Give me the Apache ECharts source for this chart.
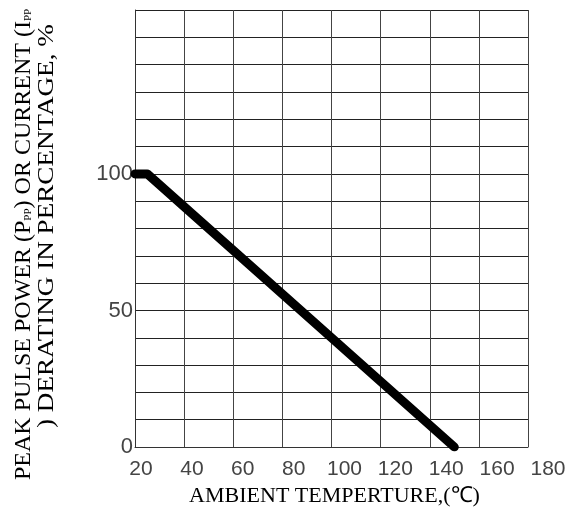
<!DOCTYPE html>
<html>
<head>
<meta charset="utf-8">
<script src="https://cdn.jsdelivr.net/npm/echarts@6/dist/echarts.min.js"></script>
<style>
html, body { margin: 0; padding: 0; background: #fff; }
#main { width: 587px; height: 514px; }
</style>
</head>
<body>
<div id="main"></div>
<script>
// 降额曲线数据 (温度, 百分比)
var temps = [20, 25, 150];
var percents = [100, 100, 0];
// 刻度标签
var xTicks = [20, 40, 60, 80, 100, 120, 140, 160, 180];
var yTicks = [0, 50, 100];

var lineData = temps.map(function (t, i) { return [t, percents[i]]; });

var myChart = echarts.init(document.getElementById('main'));
myChart.setOption({
    animation: false,
    grid: [
        { left: 135, right: 59, top: 10, bottom: 67 },
        // 只用于横轴文字
        { left: 141, right: 39, top: 10, bottom: 67 }
    ],
    xAxis: [{
        type: 'value', gridIndex: 0,
        min: 20, max: 180, interval: 20,
        axisLabel: { show: false },
        axisTick: { show: false },
        axisLine: { lineStyle: { color: '#333', width: 1 } },
        splitLine: { show: true, lineStyle: { color: '#444', width: 1 } },
        name: 'AMBIENT TEMPERTURE,(℃)',
        nameLocation: 'middle',
        nameGap: 38,
        nameTextStyle: { fontFamily: 'Liberation Serif', fontSize: 22, color: '#000', padding: [0, 0, 0, 6] }
    }, {
        type: 'value', gridIndex: 1,
        min: 20, max: 180, interval: 20,
        axisLine: { show: false },
        axisTick: { show: false },
        splitLine: { show: false },
        axisLabel: {
            margin: 12,
            fontFamily: 'Liberation Sans', fontSize: 21, color: '#444',
            formatter: function (v) { return xTicks.indexOf(v) >= 0 ? String(v) : ''; }
        }
    }],
    yAxis: [{
        type: 'value', gridIndex: 0,
        min: 0, max: 160, interval: 10,
        axisTick: { show: false },
        axisLine: { show: true, lineStyle: { color: '#333', width: 1 } },
        splitLine: { show: true, lineStyle: { color: '#222', width: 1 } },
        axisLabel: {
            margin: 2,
            fontFamily: 'Liberation Sans', fontSize: 22, color: '#444',
            formatter: function (v) { return yTicks.indexOf(v) >= 0 ? String(v) : ''; }
        }
    }, {
        type: 'value', gridIndex: 1, min: 0, max: 160, show: false
    }],
    graphic: [{
        type: 'text',
        x: 24, y: 480,
        rotation: Math.PI / 2,
        style: {
            text: 'PEAK PULSE POWER (P{s|PP}) OR CURRENT (I{s|PP}',
            font: '24px "Liberation Serif"',
            fill: '#000',
            align: 'left', verticalAlign: 'middle',
            rich: { s: { fontSize: 11, fontFamily: 'Liberation Serif', padding: [8, 0, 0, 0] } }
        }
    }, {
        type: 'text',
        x: 47, y: 428,
        rotation: Math.PI / 2,
        scaleX: 1.13,
        style: {
            text: ') DERATING IN PERCENTAGE, %',
            font: '24px "Liberation Serif"',
            fill: '#000',
            align: 'left', verticalAlign: 'middle'
        }
    }],
    series: [{
        type: 'line',
        xAxisIndex: 0, yAxisIndex: 0,
        data: lineData,
        symbol: 'none',
        lineStyle: { color: '#000', width: 9, cap: 'round', join: 'round' }
    }]
});
</script>
</body>
</html>
